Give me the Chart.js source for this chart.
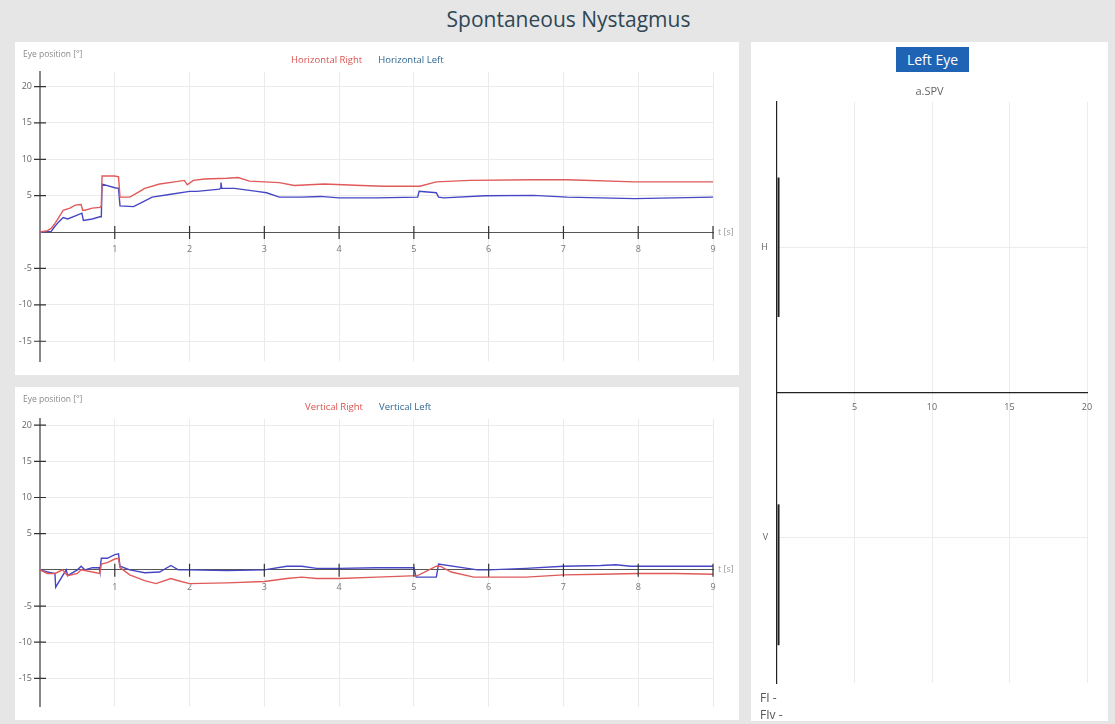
<!DOCTYPE html>
<html>
<head>
<meta charset="utf-8">
<script src="https://cdn.jsdelivr.net/npm/chart.js@4"></script>
<style>
  body { margin: 0; background: #e6e6e6; font-family: "Open Sans", sans-serif; }
  #page { position: relative; width: 1115px; height: 724px; overflow: hidden; }
  h1 { position: absolute; top: 0; left: 11px; width: 1115px; margin: 0; height: 38px; line-height: 38px;
       text-align: center; font-weight: normal; font-size: 21px; color: #2f4654; }
  .panel { position: absolute; background: #fff; }
  .panel canvas { position: absolute; left: 0; top: 0; }
  .ylab { position: absolute; font-size: 8.5px; color: #8a8a8a; }
  .legend { position: absolute; font-size: 9.5px; white-space: nowrap; }
  .legend span { margin-right: 16px; }
  .btn { position: absolute; left: 145px; top: 5px; width: 73px; height: 25px; line-height: 25px; background: #1f63b4;
         color: #fff; font-size: 14px; text-align: center; }
  .sub { position: absolute; left: 0; width: 357px; top: 41px; text-align: center; font-size: 11px; color: #666; }
  .fi { position: absolute; left: 9px; font-size: 12px; color: #555; }
</style>
</head>
<body>
<div id="page">
  <h1>Spontaneous Nystagmus</h1>

  <div class="panel" style="left:15px; top:42px; width:724px; height:333px;">
    <canvas id="horChart" width="724" height="333"></canvas>
    <div class="ylab" style="left:8px; top:6px;">Eye position [°]</div>
    <div class="legend" style="left:276px; top:11px;"><span style="color:#d9534f">Horizontal Right</span><span style="color:#2f6690">Horizontal Left</span></div>
  </div>

  <div class="panel" style="left:15px; top:387px; width:724px; height:333px;">
    <canvas id="verChart" width="724" height="333"></canvas>
    <div class="ylab" style="left:8px; top:6px;">Eye position [°]</div>
    <div class="legend" style="left:290px; top:13px;"><span style="color:#d9534f">Vertical Right</span><span style="color:#2f6690">Vertical Left</span></div>
  </div>

  <div class="panel" style="left:751px; top:42px; width:357px; height:679px;">
    <canvas id="spvChart" width="357" height="679"></canvas>
    <div class="btn">Left Eye</div>
    <div class="sub">a.SPV</div>
    <div class="fi" style="top:647px;">FI -</div>
    <div class="fi" style="top:664px;">FIv -</div>
  </div>
</div>

<script>
// horizontal eye position [deg] over time [s]
const horRightT = [0, 0.1, 0.15, 0.2, 0.25, 0.31, 0.4, 0.47, 0.55, 0.57, 0.6, 0.7, 0.8, 0.82, 0.83, 1.0, 1.05, 1.07, 1.2, 1.3, 1.4, 1.6, 1.8, 1.93, 1.97, 2.05, 2.2, 2.5, 2.65, 2.8, 3.2, 3.4, 3.8, 4.3, 4.6, 5.0, 5.08, 5.3, 5.75, 6.6, 7.05, 7.95, 9];
const horRightY = [0, 0.2, 0.5, 1.2, 2.0, 3.0, 3.3, 3.7, 3.8, 3.0, 3.0, 3.3, 3.4, 3.6, 7.7, 7.7, 7.6, 4.8, 4.8, 5.4, 6.0, 6.6, 6.9, 7.1, 6.5, 7.1, 7.3, 7.4, 7.5, 7.0, 6.8, 6.4, 6.6, 6.4, 6.3, 6.3, 6.3, 6.9, 7.1, 7.2, 7.2, 6.9, 6.9];
const horLeftT = [0, 0.15, 0.2, 0.25, 0.31, 0.37, 0.49, 0.56, 0.58, 0.7, 0.8, 0.82, 0.83, 1.0, 1.05, 1.07, 1.25, 1.35, 1.5, 1.75, 2.0, 2.1, 2.4, 2.41, 2.42, 2.43, 2.6, 2.9, 3.03, 3.2, 3.5, 3.75, 4.0, 4.5, 5.05, 5.07, 5.3, 5.33, 5.4, 5.95, 6.6, 7.05, 7.95, 9];
const horLeftY = [0, 0.1, 0.8, 1.4, 2.0, 1.8, 2.3, 2.6, 1.6, 1.8, 2.1, 2.1, 6.6, 6.1, 6.0, 3.6, 3.5, 4.0, 4.8, 5.2, 5.6, 5.6, 5.9, 6.0, 6.8, 6.0, 6.0, 5.6, 5.4, 4.8, 4.8, 4.9, 4.7, 4.7, 4.8, 5.6, 5.4, 4.8, 4.7, 5.0, 5.05, 4.8, 4.6, 4.8];

// vertical eye position [deg] over time [s]
const verRightT = [0, 0.1, 0.2, 0.3, 0.37, 0.5, 0.55, 0.7, 0.8, 0.82, 0.9, 1.0, 1.05, 1.07, 1.2, 1.4, 1.55, 1.75, 1.85, 2.0, 2.5, 3.0, 3.3, 3.5, 3.7, 4.0, 4.5, 5.05, 5.3, 5.35, 5.5, 5.8, 6.5, 7.0, 7.5, 8.0, 8.5, 9];
const verRightY = [0, -0.5, -0.5, 0, -0.8, -0.5, 0, -0.3, -0.5, 0.8, 1.0, 1.5, 1.6, 0.3, -0.7, -1.5, -1.9, -1.2, -1.5, -1.9, -1.8, -1.6, -1.2, -1.0, -1.2, -1.2, -1.0, -0.8, 0.5, 0.5, -0.3, -1.0, -1.0, -0.7, -0.6, -0.5, -0.5, -0.6];
const verLeftT = [0, 0.1, 0.2, 0.21, 0.35, 0.37, 0.5, 0.55, 0.6, 0.7, 0.79, 0.8, 0.82, 0.9, 1.0, 1.05, 1.07, 1.2, 1.4, 1.6, 1.75, 1.85, 2.0, 2.5, 3.0, 3.3, 3.5, 3.7, 4.0, 4.5, 5.0, 5.03, 5.3, 5.33, 5.85, 6.0, 6.5, 7.0, 7.5, 7.7, 7.9, 8.5, 9];
const verLeftY = [0, -0.3, -0.5, -2.4, 0, -0.8, 0, 0.5, 0, 0.3, 0.3, -0.2, 1.6, 1.6, 2.1, 2.2, 0.5, 0, -0.4, -0.3, 0.6, 0, 0, -0.1, 0, 0.5, 0.5, 0.2, 0.2, 0.3, 0.3, -1.0, -1.0, 0.8, 0, 0, 0.2, 0.5, 0.6, 0.7, 0.5, 0.5, 0.5];

// axis ticks
const timeTicks = [1, 2, 3, 4, 5, 6, 7, 8, 9];
const posTicks = [-15, -10, -5, 5, 10, 15, 20];
const spvTicks = [5, 10, 15, 20];

// a.SPV panel: rows and (empty) bars
const spvRows = ['H', 'V'];
const spvRowPos = [1, -1];
const spvValues = [0.1, 0.1];
const spvSpanH = [0.52, 1.48];
const spvSpanV = [-1.74, -0.77];

const RED = '#e05a5a';
const BLUE = '#4646c4';

function pts(t, y) { return t.map((v, i) => ({ x: v, y: y[i] })); }

// small tick marks that cross the axis lines
const crossTicks = {
    id: 'crossTicks',
    afterDraw(chart) {
        const { ctx, scales: { x, y } } = chart;
        const x0 = x.getPixelForValue(0);
        const y0 = y.getPixelForValue(0);
        ctx.save();
        ctx.strokeStyle = '#333';
        ctx.lineWidth = 1.2;
        ctx.beginPath();
        timeTicks.forEach(v => {
            const px = x.getPixelForValue(v);
            ctx.moveTo(px, y0 - 6); ctx.lineTo(px, y0 + 7);
        });
        posTicks.forEach(v => {
            const py = y.getPixelForValue(v);
            if (py < y.top) return;
            ctx.moveTo(x0 - 6, py); ctx.lineTo(x0 + 6, py);
        });
        ctx.stroke();
        ctx.fillStyle = '#999';
        ctx.font = '9px "Open Sans"';
        ctx.textBaseline = 'middle';
        ctx.fillText('t [s]', x.getPixelForValue(9) + 5, y0);
        ctx.restore();
    }
};

function eyeChart(id, rightPts, leftPts, yMin, yMax, pad) {
    return new Chart(document.getElementById(id), {
        type: 'line',
        data: {
            datasets: [
                { data: rightPts, borderColor: RED, borderWidth: 1.4, pointRadius: 0, tension: 0 },
                { data: leftPts, borderColor: BLUE, borderWidth: 1.4, pointRadius: 0, tension: 0 }
            ]
        },
        options: {
            responsive: false,
            animation: false,
            layout: { padding: pad },
            plugins: { legend: { display: false }, tooltip: { enabled: false } },
            scales: {
                x: {
                    type: 'linear', min: 0, max: 9,
                    position: { y: 0 },
                    afterBuildTicks: s => { s.ticks = timeTicks.map(v => ({ value: v })); },
                    grid: { color: '#ebebeb', drawTicks: false },
                    border: { color: '#555', width: 1 },
                    ticks: { padding: 12, color: '#777', font: { size: 9, family: 'Open Sans' } }
                },
                y: {
                    type: 'linear', min: yMin, max: yMax,
                    position: 'left',
                    afterFit: s => { s.width = 25; },
                    afterBuildTicks: s => { s.ticks = posTicks.map(v => ({ value: v })); },
                    grid: { color: '#ebebeb', drawTicks: false },
                    border: { color: '#888', width: 2 },
                    ticks: { padding: 8, color: '#666', font: { size: 9, family: 'Open Sans' } }
                }
            }
        },
        plugins: [crossTicks]
    });
}

eyeChart('horChart', pts(horRightT, horRightY), pts(horLeftT, horLeftY), -17.8, 22.0, { left: 0, right: 26, top: 30, bottom: 8 });
eyeChart('verChart', pts(verRightT, verRightY), pts(verLeftT, verLeftY), -18.9, 20.85, { left: 0, right: 26, top: 32, bottom: 5 });

// a.SPV chart: the bars are drawn as thick vertical segments next to the axis
new Chart(document.getElementById('spvChart'), {
    type: 'line',
    data: {
        datasets: [
            { data: spvSpanH.map(v => ({ x: spvValues[0], y: v })), borderColor: '#222', borderWidth: 2, pointRadius: 0 },
            { data: spvSpanV.map(v => ({ x: spvValues[1], y: v })), borderColor: '#222', borderWidth: 2, pointRadius: 0 }
        ]
    },
    options: {
        responsive: false,
        animation: false,
        layout: { padding: { left: 0, right: 21, top: 60, bottom: 38 } },
        plugins: { legend: { display: false }, tooltip: { enabled: false } },
        scales: {
            x: {
                type: 'linear', min: 0, max: 20,
                position: { y: 0 },
                afterBuildTicks: s => { s.ticks = spvTicks.map(v => ({ value: v })); },
                grid: { color: '#ececec', drawTicks: false },
                border: { color: '#222', width: 1.2 },
                ticks: { padding: 10, color: '#666', font: { size: 9, family: 'Open Sans' } }
            },
            y: {
                type: 'linear', min: -2, max: 2,
                position: 'left',
                afterFit: s => { s.width = 26; },
                afterBuildTicks: s => { s.ticks = spvRowPos.map(v => ({ value: v })); },
                grid: { color: '#ececec', drawTicks: false },
                border: { color: '#222', width: 1.2 },
                ticks: {
                    padding: 9, color: '#666', font: { size: 9, family: 'Open Sans' },
                    callback: v => spvRows[spvRowPos.indexOf(v)]
                }
            }
        }
    }
});
</script>
</body>
</html>
